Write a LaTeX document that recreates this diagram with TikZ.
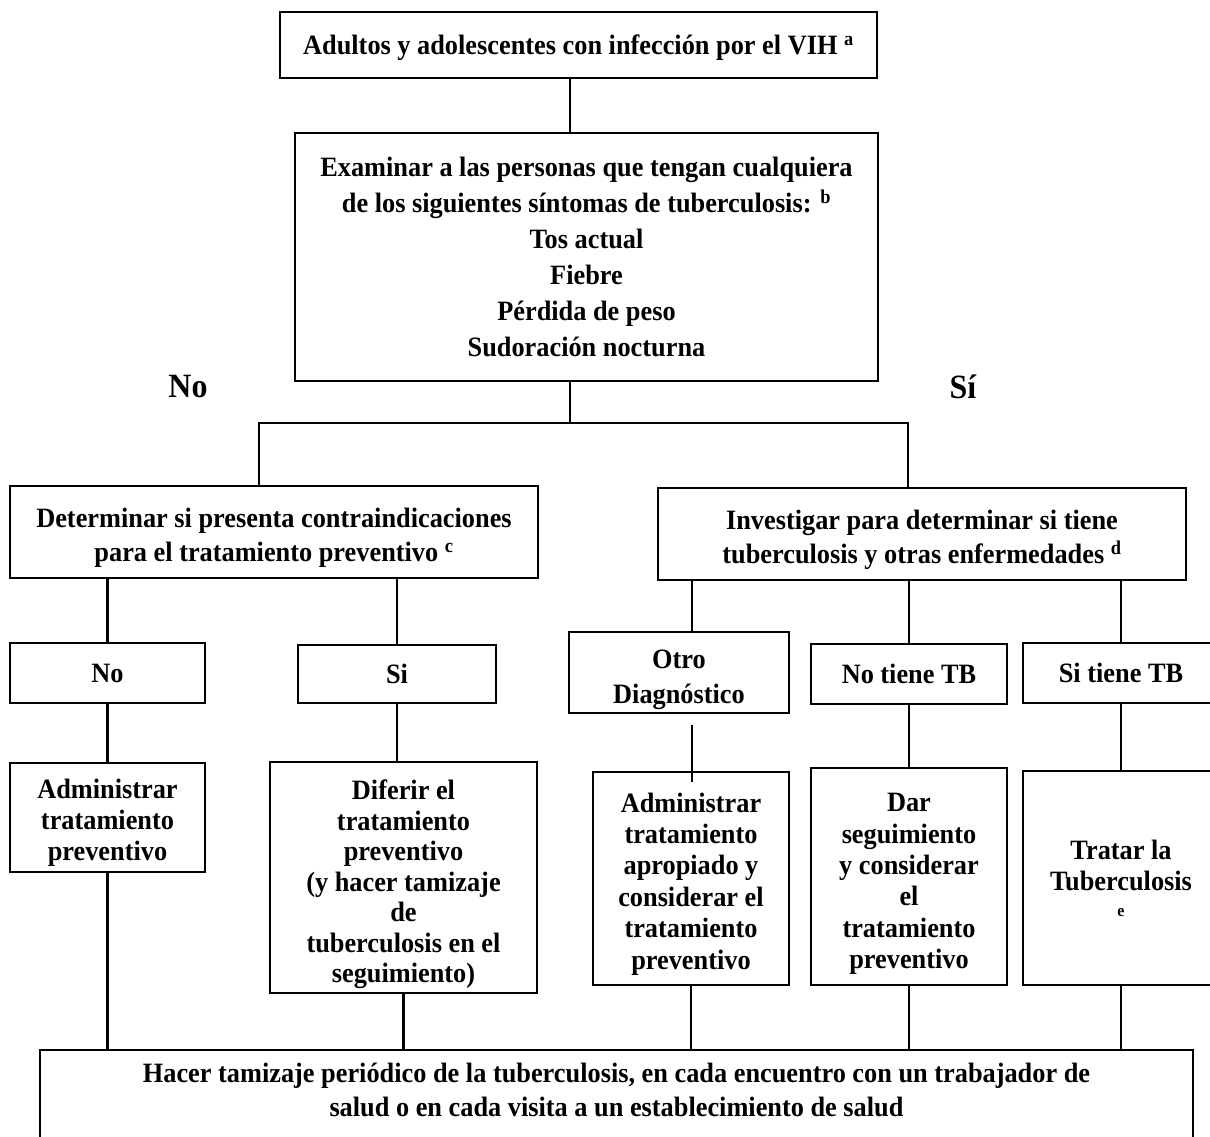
\documentclass[tikz,border=0pt]{standalone}
\usepackage{fontspec}
\setmainfont{Liberation Serif}[FakeStretch=0.94]
\begin{document}
\begin{tikzpicture}[x=1pt,y=-1pt,
  box/.style={draw, line width=1.3pt, inner sep=0pt, align=center,
    font=\bfseries\fontsize{28}{31}\selectfont},
  tdep/.style={text depth=#1},
  tht/.style={text height=#1, text depth=0pt},
  wire/.style={line width=2.2pt},
  side/.style={font=\bfseries\fontsize{34}{36}\selectfont, inner sep=0pt}]
\useasboundingbox (0,0) rectangle (1210,1136);
\clip (0,0) rectangle (1210,1136);

% boxes: centre, width, height
\node[box, tdep=0pt, minimum width=597, minimum height=66] (top) at (578.5,45)
  {Adultos y adolescentes con infección por el VIH \textsuperscript{a}};
\node[box, minimum width=583, minimum height=248,
  font=\bfseries\fontsize{28}{36}\selectfont] (exam) at (586.5,257)
  {Examinar a las personas que tengan cualquiera\\
   de los siguientes síntomas de tuberculosis: \textsuperscript{b}\\
   Tos actual\\ Fiebre\\ Pérdida de peso\\ Sudoración nocturna};
\node[side] (lno) at (188,387) {No};
\node[side] (lsi) at (963,387) {Sí};

\node[box, tht=59pt, minimum width=528, minimum height=92,
  font=\bfseries\fontsize{28}{34}\selectfont] (det) at (274,532)
  {Determinar si presenta contraindicaciones\\
   para el tratamiento preventivo \textsuperscript{c}};
\node[box, tht=59pt, minimum width=528, minimum height=92,
  font=\bfseries\fontsize{28}{34}\selectfont] (inv) at (922,534)
  {Investigar para determinar si tiene\\
   tuberculosis y otras enfermedades \textsuperscript{d}};

\node[box, minimum width=195, minimum height=60] (noA) at (107.5,673) {No};
\node[box, minimum width=198, minimum height=58] (siA) at (397,674) {Si};
\node[box, tht=62pt, minimum width=220, minimum height=81,
  font=\bfseries\fontsize{28}{35}\selectfont] (otro) at (679,672.5)
  {Otro\\ Diagnóstico};
\node[box, minimum width=196, minimum height=60] (notb) at (909,674) {No tiene TB};
\node[box, minimum width=196, minimum height=60] (sitb) at (1121,673) {Si tiene TB};

\node[box, tht=85pt, minimum width=195, minimum height=109] (adm) at (107.5,817.5)
  {Administrar\\ tratamiento\\ preventivo};
\node[box, tht=210pt, minimum width=267, minimum height=231,
  font=\bfseries\fontsize{28}{30.5}\selectfont] (dif) at (403.5,877.5)
  {Diferir el\\ tratamiento\\ preventivo\\ (y hacer tamizaje\\ de\\
   tuberculosis en el\\ seguimiento)};
\node[box, tht=181pt, minimum width=196, minimum height=213,
  font=\bfseries\fontsize{28}{31.4}\selectfont] (apro) at (691,878.5)
  {Administrar\\ tratamiento\\ apropiado y\\ considerar el\\ tratamiento\\ preventivo};
\node[box, tht=184.5pt, minimum width=196, minimum height=217,
  font=\bfseries\fontsize{28}{31.4}\selectfont] (dar) at (909,876.5)
  {Dar\\ seguimiento\\ y considerar\\ el\\ tratamiento\\ preventivo};
\node[box, minimum width=196, minimum height=214] (trat) at (1121,878)
  {Tratar la\\ Tuberculosis\\[-5pt] {\fontsize{17}{17}\selectfont e}};

\node[box, tdep=16pt, minimum width=1153, minimum height=95,
  font=\bfseries\fontsize{28}{34}\selectfont] (screen) at (616.5,1097.5)
  {Hacer tamizaje periódico de la tuberculosis, en cada encuentro con un trabajador de\\
   salud o en cada visita a un establecimiento de salud};

% junction points of the trunk and branches
\coordinate (trunk) at (570,0);
\coordinate (fork) at (570,423);
\coordinate (jl) at (259,423);
\coordinate (jr) at (908,423);
\coordinate (ox) at (692,0);

% connectors
\draw[wire] (top.south -| trunk) -- (exam.north -| trunk);
\draw[wire] (exam.south -| fork) -- (fork);
\draw[wire] (det.north -| jl) -- (jl) -- (jr) -- (inv.north -| jr);

\draw[wire] (noA.north) -- (noA.north |- det.south);
\draw[wire] (siA.north) -- (siA.north |- det.south);
\draw[wire] (otro.north -| ox) -- (inv.south -| ox);
\draw[wire] (notb.north) -- (notb.north |- inv.south);
\draw[wire] (sitb.north) -- (sitb.north |- inv.south);

\draw[wire] (noA.south) -- (noA.south |- adm.north);
\draw[wire] (siA.south) -- (siA.south |- dif.north);
\draw[wire] ([yshift=-11pt]otro.south -| ox) -- ([yshift=-11pt]apro.north -| ox);
\draw[wire] (notb.south) -- (notb.south |- dar.north);
\draw[wire] (sitb.south) -- (sitb.south |- trat.north);

\draw[wire] (adm.south) -- (adm.south |- screen.north);
\draw[wire] (dif.south) -- (dif.south |- screen.north);
\draw[wire] (apro.south) -- (apro.south |- screen.north);
\draw[wire] (dar.south) -- (dar.south |- screen.north);
\draw[wire] (trat.south) -- (trat.south |- screen.north);
\end{tikzpicture}
\end{document}
